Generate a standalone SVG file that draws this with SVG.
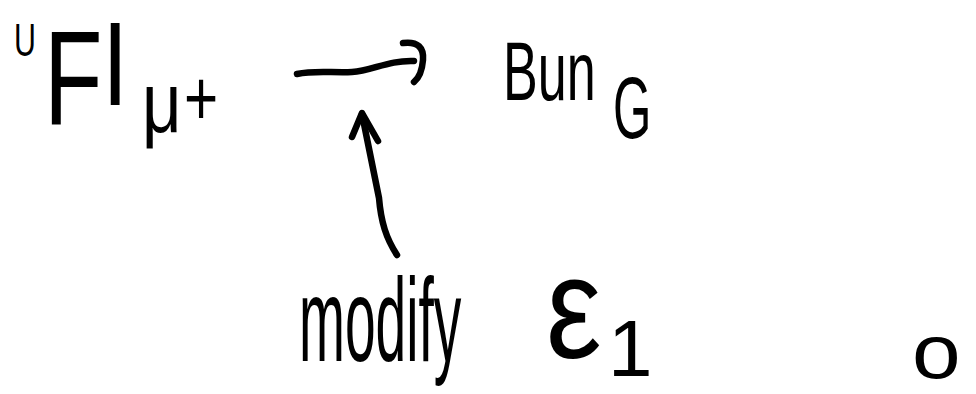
<svg xmlns="http://www.w3.org/2000/svg" width="976" height="394" viewBox="0 0 976 394">
  <style>
    text { font-family: "Liberation Sans", "DejaVu Sans", sans-serif; fill: #000; }
    .ink { fill: none; stroke: #000; stroke-width: 6.5; stroke-linecap: round; stroke-linejoin: round; }
  </style>
  <rect width="976" height="394" fill="#fff"/>

  <!-- source object: U F l with subscript mu+ (narrow, hand-lettered proportions) -->
  <g id="node-fl">
    <text transform="translate(14,56) scale(0.66,1)" font-size="46">U</text>
    <text transform="translate(44,124) scale(0.72,1)" font-size="133">F</text>
    <text transform="translate(104,105) scale(0.88,1)" font-size="114">l</text>
    <text transform="translate(142,132) scale(0.8,1)" font-size="86">μ</text>
    <text transform="translate(184,125) scale(0.75,1)" font-size="78">+</text>
  </g>

  <!-- target object: Bun with subscript G -->
  <g id="node-bun">
    <text transform="translate(503,100) scale(0.62,1)" font-size="84">Bun</text>
    <text transform="translate(613,138) scale(0.56,1)" font-size="88">G</text>
  </g>

  <g id="node-modify">
    <text transform="translate(299,361) scale(0.467,1)" font-size="118">modify</text>
  </g>

  <g id="node-eps">
    <text transform="translate(546,358) scale(0.86,1)" font-size="145">ε</text>
    <text transform="translate(608,376)" font-size="80">1</text>
  </g>

  <g id="node-o">
    <text transform="translate(912,378) scale(1.15,1)" font-size="76">o</text>
  </g>

  <g id="connectors">
    <!-- wavy map with hooked head -->
    <path class="ink" d="M297,74 C315,70 332,73 352,72 C372,71 388,60 414,61"/>
    <path class="ink" d="M403,43 C418,41 424,48 423,60 C422,72 419,78 414,82"/>
    <!-- upward arrow from "modify" -->
    <path class="ink" d="M397,255 C386,238 381,222 379,198 L362,114"/>
    <path class="ink" d="M352,137 L362,113 L378,141"/>
  </g>
</svg>
